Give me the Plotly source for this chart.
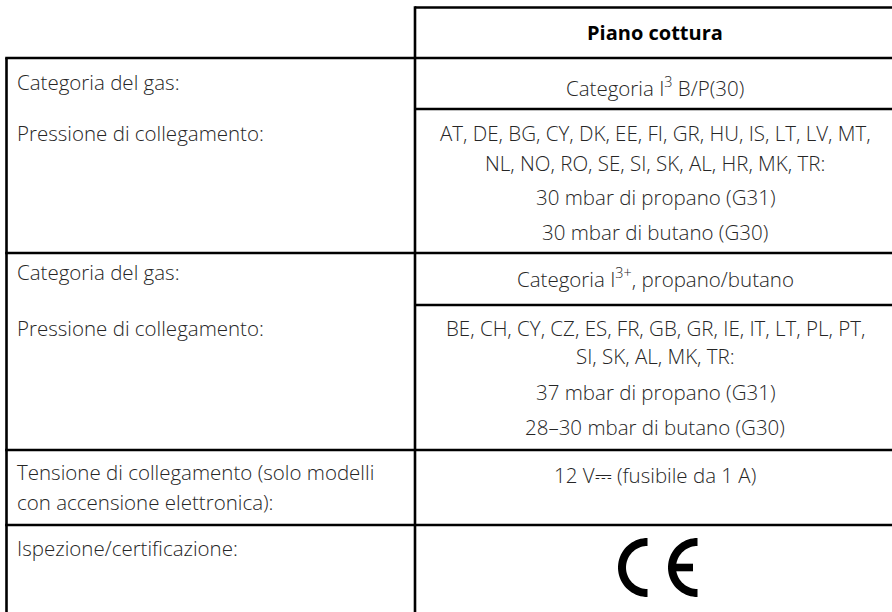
import numpy as np
import plotly.graph_objects as go

# ---- content ----
header = "Piano cottura"
left_labels = [
    "Categoria del gas:",
    "Pressione di collegamento:",
    "Categoria del gas:",
    "Pressione di collegamento:",
    "Tensione di collegamento (solo modelli",
    "con accensione elettronica):",
    "Ispezione/certificazione:",
]
right_cat1 = "Categoria I<sup>3</sup> B/P(30)"
right_press1 = [
    "AT, DE, BG, CY, DK, EE, FI, GR, HU, IS, LT, LV, MT,",
    "NL, NO, RO, SE, SI, SK, AL, HR, MK, TR:",
    "30 mbar di propano (G31)",
    "30 mbar di butano (G30)",
]
right_cat2 = "Categoria I<sup>3+</sup>, propano/butano"
right_press2 = [
    "BE, CH, CY, CZ, ES, FR, GB, GR, IE, IT, LT, PL, PT,",
    "SI, SK, AL, MK, TR:",
    "37 mbar di propano (G31)",
    "28–30 mbar di butano (G30)",
]
right_volt = "12 V⎓ (fusibile da 1 A)"

# ---- layout geometry (pixels) ----
W, H = 892, 612
X_LEFT, X_DIV, X_RIGHT = 6.5, 415, 900
Y_TOP = 7.5
FULL_LINES = [58, 253, 450, 525]
RIGHT_LINES = [109, 305]
LW = 2.6
FONT = "Open Sans"
FS = 20.5
COLOR = "#262626"
XL_TEXT = 15
XC = 655

fig = go.Figure()
fig.add_trace(go.Scatter(x=[0, W], y=[0, H], mode="markers", marker=dict(opacity=0),
                         hoverinfo="skip", showlegend=False))

shapes = []
def line(x0, y0, x1, y1):
    shapes.append(dict(type="line", x0=x0, y0=y0, x1=x1, y1=y1, xref="x", yref="y",
                       line=dict(color="black", width=LW)))

line(X_DIV, Y_TOP, X_RIGHT, Y_TOP)
for y in FULL_LINES:
    line(X_LEFT - LW / 2, y, X_RIGHT, y)
for y in RIGHT_LINES:
    line(X_DIV, y, X_RIGHT, y)
line(X_LEFT, FULL_LINES[0], X_LEFT, H + 5)
line(X_DIV, Y_TOP - LW / 2, X_DIV, H + 5)

# CE mark (drawn as filled arcs)
def arc_poly(cx, cy, ro, ri, a0, a1, n=40):
    a = np.linspace(np.radians(a0), np.radians(a1), n)
    outer = [(cx + ro * np.cos(t), cy - ro * np.sin(t)) for t in a]
    inner = [(cx + ri * np.cos(t), cy - ri * np.sin(t)) for t in a[::-1]]
    pts = outer + inner
    return "M " + " L ".join(f"{x:.2f},{y:.2f}" for x, y in pts) + " Z"

R_O, R_I = 29.5, 21.5
CY_CE = 567.5
for cx in (647.5, 697.5):
    shapes.append(dict(type="path", path=arc_poly(cx, CY_CE, R_O, R_I, 90, 270),
                       xref="x", yref="y", fillcolor="black", line=dict(width=0)))
shapes.append(dict(type="rect", x0=673, x1=693, y0=CY_CE - 3.8, y1=CY_CE + 3.8,
                   xref="x", yref="y", fillcolor="black", line=dict(width=0)))

ann = []
def text(x, y, s, anchor="left", bold=False, size=FS):
    ann.append(dict(x=x, y=y, xref="x", yref="y", text=s, showarrow=False,
                    xanchor=anchor, yanchor="middle", align=anchor,
                    font=dict(family=FONT, size=size, color="black" if bold else COLOR,
                              weight=700 if bold else 300)))

text(XC, 32, header, "center", bold=True, size=20)
left_y = [82, 133, 272, 328, 472, 502, 548]
for s, y in zip(left_labels, left_y):
    text(XL_TEXT, y, s)
text(XC, 87, right_cat1, "center")
for s, y in zip(right_press1, [133, 163, 197, 232]):
    text(XC, y, s, "center")
text(XC, 278, right_cat2, "center")
for s, y in zip(right_press2, [328, 356, 392, 427]):
    text(XC, y, s, "center")
text(XC, 475, right_volt, "center")

fig.update_layout(
    width=W, height=H, margin=dict(l=0, r=0, t=0, b=0),
    paper_bgcolor="white", plot_bgcolor="white",
    xaxis=dict(range=[0, W], visible=False, fixedrange=True),
    yaxis=dict(range=[H, 0], visible=False, fixedrange=True),
    shapes=shapes, annotations=ann, showlegend=False,
)
fig.write_html("out.html", config={"displayModeBar": False},
               post_script="document.body.style.margin='0';document.body.style.overflow='hidden';")
